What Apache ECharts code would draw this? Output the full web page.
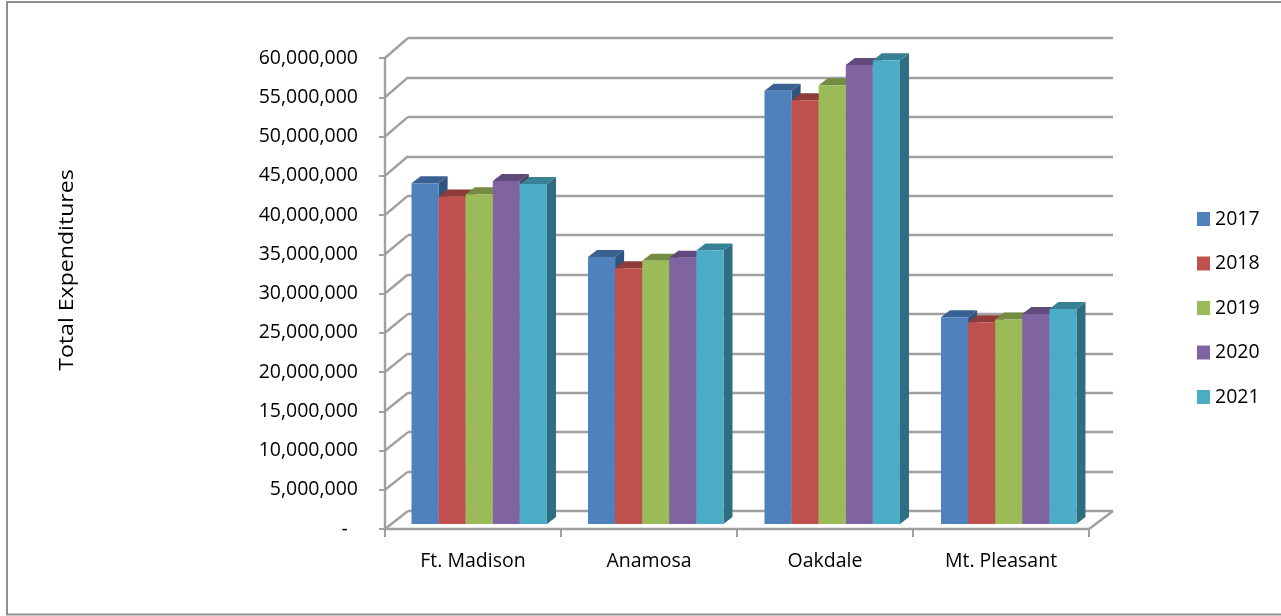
<!DOCTYPE html>
<html>
<head>
<meta charset="utf-8">
<style>html,body{margin:0;padding:0;background:#fff}#chart{width:1281px;height:616px}</style>
<script src="https://cdn.jsdelivr.net/npm/echarts@6/dist/echarts.min.js"></script>
</head>
<body>
<div id="chart"></div>
<script>
// Total expenditures per facility, fiscal years 2017-2021
const facilities = ['Ft. Madison', 'Anamosa', 'Oakdale', 'Mt. Pleasant'];
const years = ['2017', '2018', '2019', '2020', '2021'];
const exp2017 = [43500000, 34100000, 55300000, 26400000];
const exp2018 = [41800000, 32650000, 54100000, 25750000];
const exp2019 = [42100000, 33600000, 56000000, 26100000];
const exp2020 = [43800000, 34000000, 58600000, 26800000];
const exp2021 = [43400000, 34900000, 59200000, 27450000];
const yearValues = [exp2017, exp2018, exp2019, exp2020, exp2021];
const axisMax = 60000000;
const axisStep = 5000000;
const levels = [];
for (let v = 0; v <= axisMax; v += axisStep) levels.push(v);

const frontColors = ['#4F81BD', '#C0504D', '#9BBB59', '#8064A2', '#4BACC6'];
const topColors = ['#3A6191', '#8E3B39', '#738C42', '#5F4A79', '#378195'];
const sideColors = ['#2F5480', '#7A322F', '#617637', '#4F3E65', '#2F6E80'];
const lineColor = '#A0A0A0';
const font = '"Open Sans", sans-serif';
const textColor = '#000';

const chart = echarts.init(document.getElementById('chart'), null, { renderer: 'canvas' });

// Extruded faces of the bars
const depthX = 9, depthY = 7;
function barRenderer(seriesIndex) {
  return function (params, api) {
    const cat = api.value(0), val = api.value(1);
    const centre = api.coord([cat, 0]);
    const top = api.coord([cat, val]);
    const w = api.size([1, 0])[0] * 0.1535;
    const x0 = centre[0] + (seriesIndex - 2.5) * w;
    const x1 = x0 + w;
    const yT = top[1], yB = centre[1];
    const poly = (pts, fill) => ({ type: 'polygon', shape: { points: pts }, style: { fill: fill } });
    return {
      type: 'group',
      children: [
        poly([[x1, yT], [x1 + depthX, yT - depthY], [x1 + depthX, yB - depthY], [x1, yB]], sideColors[seriesIndex]),
        poly([[x0, yT], [x0 + depthX, yT - depthY], [x1 + depthX, yT - depthY], [x1, yT]], topColors[seriesIndex]),
        { type: 'rect', shape: { x: x0, y: yT, width: w, height: yB - yT }, style: { fill: frontColors[seriesIndex] } }
      ]
    };
  };
}

// Slanted connectors from the front axis up to the back wall
function connectorRenderer(params, api) {
  const val = api.value(0);
  const front = api.coord([0, val]);
  const back = chart.convertToPixel({ gridIndex: 1 }, [0, val]);
  return {
    type: 'line',
    shape: { x1: front[0], y1: front[1], x2: back[0], y2: back[1] },
    style: { stroke: lineColor, lineWidth: 2.4 }
  };
}

function floorEdgeRenderer(params, api) {
  const front = api.coord([1, 0]);
  const back = chart.convertToPixel({ gridIndex: 1 }, [1, 0]);
  return {
    type: 'line',
    shape: { x1: front[0], y1: front[1], x2: back[0], y2: back[1] },
    style: { stroke: lineColor, lineWidth: 2.4 }
  };
}

// Accounting style: zero is a dash set in from the right edge of the column
const fmt = v => v === 0 ? '-  ' : v.toLocaleString('en-US');

const option = {
  animation: false,
  backgroundColor: '#fff',
  graphic: [
    {
      type: 'rect', silent: true, z: -10,
      shape: { x: 7, y: 2, width: 1290, height: 612.5 },
      style: { fill: '#fff', stroke: '#8e8e8e', lineWidth: 2 }
    },
    {
      type: 'text', silent: true,
      x: 67, y: 270, rotation: Math.PI / 2, scaleX: 1.155,
      style: {
        text: 'Total Expenditures', align: 'center', verticalAlign: 'middle',
        fontFamily: font, fontSize: 20, fill: textColor
      }
    }
  ],
  legend: {
    orient: 'vertical',
    left: 1197, top: 209, padding: 0,
    itemWidth: 13, itemHeight: 14, itemGap: 24.5,
    icon: 'rect',
    data: years,
    textStyle: { fontFamily: font, fontSize: 19.5, lineHeight: 14, color: textColor }
  },
  grid: [
    // front plane: axes and labels
    { left: 385, top: 58, width: 704, height: 471 },
    // back wall: gridlines
    { left: 408, top: 38, width: 705, height: 473 },
    // plane of the bars' front faces
    { left: 391, top: 54, width: 706, height: 470 }
  ],
  xAxis: [
    { gridIndex: 0, type: 'value', min: 0, max: 1, show: false },
    { gridIndex: 1, type: 'value', min: 0, max: 1, show: false },
    { gridIndex: 2, type: 'category', data: facilities, show: false },
    {
      gridIndex: 0, type: 'category', data: facilities, position: 'bottom',
      axisLine: { show: true, onZero: false, lineStyle: { color: lineColor, width: 2.4 } },
      axisTick: { show: true, length: 8, lineStyle: { color: lineColor, width: 2 } },
      axisLabel: { fontFamily: font, fontSize: 19.5, color: textColor, margin: 22 }
    }
  ],
  yAxis: [
    {
      gridIndex: 0, type: 'value', min: 0, max: axisMax, interval: axisStep,
      axisLine: { show: true, lineStyle: { color: lineColor, width: 2.4 } },
      axisTick: { show: true, length: 6, lineStyle: { color: lineColor, width: 2 } },
      axisLabel: { fontFamily: font, fontSize: 19.5, color: textColor, margin: 27, padding: [12, 0, 0, 0], formatter: fmt },
      splitLine: { show: false }
    },
    {
      gridIndex: 1, type: 'value', min: 0, max: axisMax, interval: axisStep,
      axisLine: { show: false }, axisTick: { show: false }, axisLabel: { show: false },
      splitLine: { show: true, lineStyle: { color: lineColor, width: 2.4 } }
    },
    { gridIndex: 2, type: 'value', min: 0, max: axisMax, show: false, splitLine: { show: false } }
  ],
  series: [
    {
      type: 'custom', xAxisIndex: 0, yAxisIndex: 0, z: 1, silent: true,
      renderItem: connectorRenderer, encode: { y: 0 },
      data: levels.map(v => [v])
    },
    {
      type: 'custom', xAxisIndex: 0, yAxisIndex: 0, z: 1, silent: true,
      renderItem: floorEdgeRenderer, data: [[1]]
    }
  ].concat(years.map((y, i) => ({
    name: y,
    type: 'custom',
    xAxisIndex: 2, yAxisIndex: 2,
    z: 3 + i,
    itemStyle: { color: frontColors[i] },
    renderItem: barRenderer(i),
    encode: { x: 0, y: 1 },
    data: yearValues[i].map((v, c) => [c, v])
  })))
};
chart.setOption(option);
// connectors need the finished coordinate systems
chart.setOption({ series: option.series });
</script>
</body>
</html>
